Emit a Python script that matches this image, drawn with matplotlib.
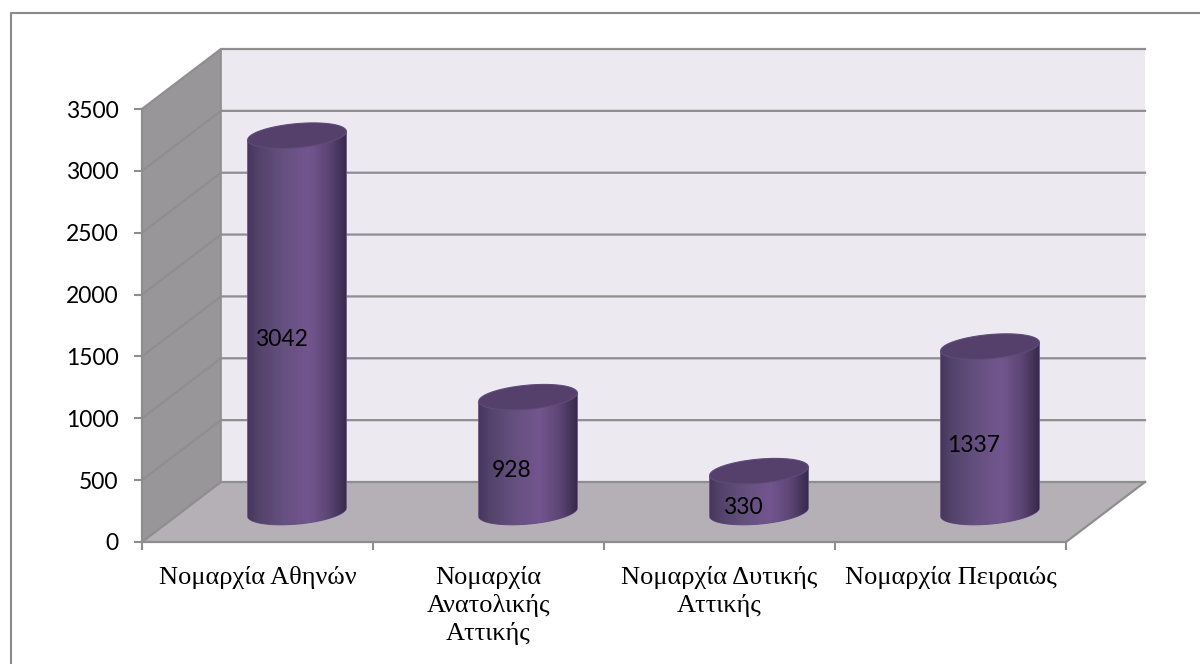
import numpy as np
import matplotlib
matplotlib.use('Agg')
import matplotlib.pyplot as plt
from matplotlib.colors import LinearSegmentedColormap
from matplotlib.lines import Line2D
from matplotlib.patches import Polygon

categories = ['Νομαρχία Αθηνών', 'Νομαρχία\nΑνατολικής\nΑττικής',
              'Νομαρχία Δυτικής\nΑττικής', 'Νομαρχία Πειραιώς']
values = [3042, 928, 330, 1337]
y_ticks = [0, 500, 1000, 1500, 2000, 2500, 3000, 3500]

W, H = 1200, 664
left, right, bottom, top = 142, 1066, 542, 109
depth_x, depth_y = 79, 60
px_x = 4 / (right - left)
px_y = 3500 / (bottom - top)
dx, dy = depth_x * px_x, depth_y * px_y

fig = plt.figure(figsize=(12, 6.64), dpi=100)
# chart frame, open on the right and at the bottom
fig.add_artist(Line2D([11 / W, 11 / W, 1], [0, 1 - 13 / H, 1 - 13 / H],
                      color='#8a8a8a', lw=1.5))
ax = fig.add_axes([left / W, 1 - bottom / H, (right - left) / W, (bottom - top) / H])
ax.patch.set_alpha(0)

grid_c = '#8e8e8e'
# back wall, side wall, floor
ax.add_patch(Polygon([(dx, dy), (4 + dx, dy), (4 + dx, 3500 + dy), (dx, 3500 + dy)],
                     fc='#ece9f1', ec='none', clip_on=False, zorder=1))
ax.add_patch(Polygon([(0, 0), (dx, dy), (dx, 3500 + dy), (0, 3500)],
                     fc='#989699', ec='none', clip_on=False, zorder=1))
ax.add_patch(Polygon([(0, 0), (4, 0), (4 + dx, dy), (dx, dy)],
                     fc='#b5b0b5', ec='none', clip_on=False, zorder=1))
for v in y_ticks:
    ax.plot([0, dx, 4 + dx], [v, v + dy, v + dy], color=grid_c, lw=1.6, clip_on=False, zorder=2)
ax.plot([4, 4 + dx], [0, dy], color=grid_c, lw=1.6, clip_on=False, zorder=2)
ax.plot([dx, dx], [dy, 3500 + dy], color=grid_c, lw=1.2, clip_on=False, zorder=2)

# cylinder shading runs left to right
body_cmap = LinearSegmentedColormap.from_list('body', [
    (0.0, '#47375e'), (0.12, '#54436b'), (0.35, '#64507f'), (0.62, '#73558f'),
    (0.82, '#5d4676'), (1.0, '#382a4c')])
shade = np.linspace(0, 1, 256).reshape(1, -1)

half_w = 49 * px_x
tilt = np.radians(5.2)
theta = np.linspace(0, 2 * np.pi, 121)
ex = 49.5 * np.cos(theta) * np.cos(tilt) + 12 * np.sin(theta) * np.sin(tilt)
ey = 49.5 * np.cos(theta) * np.sin(tilt) - 12 * np.sin(theta) * np.cos(tilt)
ell_x = ex * px_x
ell_y = ey * px_y
lower = theta <= np.pi

for i, val in enumerate(values):
    cx = i + 0.5 + dx / 2
    base = dy / 2
    # lower half of the base ellipse, then back along the same arc at the top
    outline = np.vstack([
        np.column_stack([cx + ell_x[lower], base + ell_y[lower]]),
        np.column_stack([cx + ell_x[lower][::-1], base + val + ell_y[lower][::-1]]),
    ])
    outer = Polygon(outline, closed=True, fc='#6a4f86', ec='#6a4f86', lw=0.8, clip_on=False, zorder=3)
    ax.add_patch(outer)
    im = ax.imshow(shade, cmap=body_cmap, aspect='auto', zorder=4,
                   extent=[cx - half_w, cx + half_w, base - 400, base + val + 400])
    im.set_clip_path(outer)
    im.set_clip_box(fig.bbox)
    ax.add_patch(Polygon(np.column_stack([cx + ell_x, base + val + ell_y]), closed=True,
                         fc='#54406a', ec='#5f4a7a', lw=0.8, clip_on=False, zorder=5))
    ax.text(cx - 16 * px_x, base + val / 2 - 16 * px_y, str(val), family='Lato', fontsize=16.5,
            color='black', ha='center', va='center', zorder=6)
ax.set_xlim(0, 4)
ax.set_ylim(0, 3500)

for side in ('top', 'right'):
    ax.spines[side].set_visible(False)
for side in ('left', 'bottom'):
    ax.spines[side].set_color(grid_c)
    ax.spines[side].set_linewidth(1.6)
    ax.spines[side].set_zorder(2)
ax.set_yticks(y_ticks)
ax.set_xticks([0, 1, 2, 3, 4])
ax.set_xticklabels([])
ax.tick_params(axis='both', length=6, width=1.5, color=grid_c)
ax.tick_params(axis='y', labelsize=16.5, pad=11)
for lab in ax.get_yticklabels():
    lab.set_family('Lato')
for i, cat in enumerate(categories):
    ax.text(i + 0.5, -195, cat, family='Liberation Serif', fontsize=19, ha='center',
            va='top', linespacing=1.27, clip_on=False)

fig.savefig('out.png', dpi=100)
